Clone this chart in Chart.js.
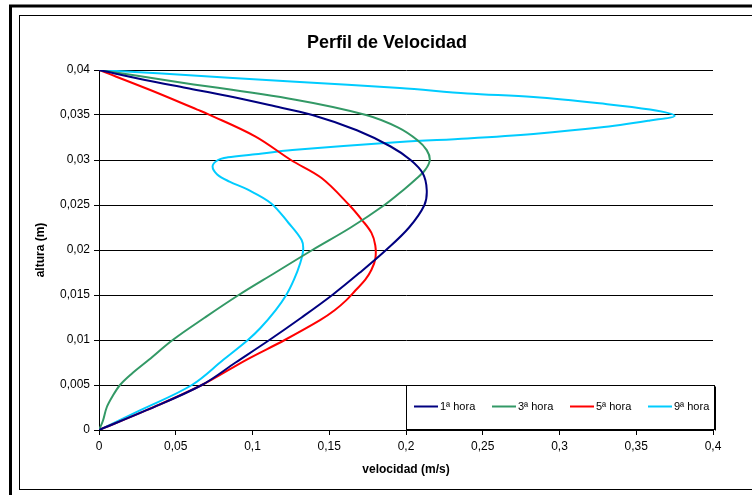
<!DOCTYPE html>
<html>
<head>
<meta charset="utf-8">
<script src="https://cdn.jsdelivr.net/npm/chart.js@4/dist/chart.umd.min.js"></script>
<style>
  html, body { margin: 0; padding: 0; background: #fff; }
  canvas { display: block; }
</style>
</head>
<body>
<canvas id="chart" width="752" height="495"></canvas>
<script>
const alt1 = [0, 0.0022, 0.005, 0.0075, 0.01, 0.0125, 0.015, 0.0175, 0.02, 0.0225, 0.025, 0.0267, 0.0285, 0.03, 0.0315, 0.0333, 0.035, 0.0361, 0.0371, 0.038, 0.0389, 0.04]
const vel1 = [0, 0.031, 0.067, 0.089, 0.111, 0.132, 0.152, 0.170, 0.187, 0.202, 0.212, 0.2135, 0.211, 0.203, 0.190, 0.168, 0.139, 0.111, 0.084, 0.057, 0.030, 0]

const alt3 = [0, 0.001, 0.0025, 0.0038, 0.005, 0.0062, 0.0078, 0.01, 0.0125, 0.015, 0.0175, 0.02, 0.0225, 0.025, 0.0267, 0.0278, 0.0289, 0.03, 0.0311, 0.0322, 0.0336, 0.035, 0.0367, 0.0387, 0.04]
const vel3 = [0, 0.0025, 0.005, 0.009, 0.0137, 0.021, 0.0325, 0.048, 0.069, 0.091, 0.115, 0.139, 0.164, 0.186, 0.1985, 0.206, 0.2125, 0.2155, 0.2135, 0.2075, 0.195, 0.174, 0.128, 0.05, 0]

const alt5 = [0, 0.0022, 0.005, 0.0078, 0.01, 0.0122, 0.0133, 0.0144, 0.0155, 0.0167, 0.0178, 0.019, 0.0205, 0.0219, 0.0233, 0.025, 0.028, 0.03, 0.0326, 0.0351, 0.0356, 0.0378, 0.04]
const vel5 = [0, 0.031, 0.067, 0.096, 0.121, 0.144, 0.1535, 0.161, 0.167, 0.1735, 0.1775, 0.180, 0.180, 0.1775, 0.1715, 0.163, 0.145, 0.125, 0.102, 0.071, 0.064, 0.033, 0]

const alt9 = [0, 0.0022, 0.005, 0.0078, 0.01, 0.0113, 0.0133, 0.015, 0.0167, 0.0185, 0.02, 0.0211, 0.023, 0.0252, 0.0267, 0.0276, 0.0284, 0.0293, 0.03, 0.0303, 0.0306, 0.0311, 0.032, 0.0324, 0.0329, 0.0336, 0.0344, 0.0349, 0.0356, 0.0363, 0.037, 0.0374, 0.038, 0.0387, 0.0396, 0.04]
const vel9 = [0, 0.027, 0.0605, 0.081, 0.097, 0.105, 0.115, 0.122, 0.127, 0.131, 0.133, 0.132, 0.1235, 0.112, 0.097, 0.085, 0.077, 0.074, 0.0775, 0.084, 0.10, 0.126, 0.196, 0.240, 0.283, 0.326, 0.359, 0.375, 0.359, 0.326, 0.283, 0.240, 0.196, 0.128, 0.041, 0]

const seriesNames = ['1ª hora', '3ª hora', '5ª hora', '9ª hora']
const seriesColors = ['#000080', '#339966', '#FF0000', '#00CCFF']

const xTicks = [0, 0.05, 0.1, 0.15, 0.2, 0.25, 0.3, 0.35, 0.4]
const xTickLabels = ['0', '0,05', '0,1', '0,15', '0,2', '0,25', '0,3', '0,35', '0,4']
const yTicks = [0, 0.005, 0.01, 0.015, 0.02, 0.025, 0.03, 0.035, 0.04]
const yTickLabels = ['0', '0,005', '0,01', '0,015', '0,02', '0,025', '0,03', '0,035', '0,04']

const FONT = "'Liberation Sans', Arial, sans-serif"

function toPoints(vel, alt) {
    return vel.map((v, i) => ({ x: v, y: alt[i] }))
}

const series = [
    toPoints(vel1, alt1),
    toPoints(vel3, alt3),
    toPoints(vel5, alt5),
    toPoints(vel9, alt9)
]

// marcos, titulo y leyenda al estilo Excel
const framePlugin = {
    id: 'frame',
    beforeDraw(chart) {
        const ctx = chart.ctx
        ctx.save()
        ctx.fillStyle = '#fff'
        ctx.fillRect(0, 0, chart.width, chart.height)
        ctx.strokeStyle = '#000'
        ctx.lineWidth = 3
        ctx.strokeRect(10.5, 6, 760, 500)
        ctx.lineWidth = 1
        ctx.strokeRect(19.5, 15.5, 750, 474)
        ctx.restore()
    },
    afterDraw(chart) {
        const ctx = chart.ctx
        ctx.save()
        ctx.fillStyle = '#000'
        ctx.font = 'bold 18px ' + FONT
        ctx.textAlign = 'center'
        ctx.textBaseline = 'middle'
        ctx.fillText('Perfil de Velocidad', 387, 43)

        // leyenda
        const box = { x: 406.5, y: 385.5, w: 308, h: 44 }
        ctx.fillStyle = '#fff'
        ctx.fillRect(box.x, box.y, box.w, box.h)
        ctx.strokeStyle = '#000'
        ctx.lineWidth = 1
        ctx.strokeRect(box.x, box.y, box.w, box.h)
        ctx.beginPath()
        ctx.moveTo(box.x + box.w + 1, box.y + 1)
        ctx.lineTo(box.x + box.w + 1, box.y + box.h + 1)
        ctx.stroke()

        ctx.font = '11px ' + FONT
        ctx.textAlign = 'left'
        chart.data.datasets.forEach((ds, i) => {
            const lx = 414 + i * 78
            const ly = 406.5
            ctx.strokeStyle = ds.borderColor
            ctx.lineWidth = 2
            ctx.beginPath()
            ctx.moveTo(lx, ly)
            ctx.lineTo(lx + 24, ly)
            ctx.stroke()
            ctx.fillStyle = '#000'
            ctx.fillText(ds.label, lx + 26, ly)
        })
        ctx.restore()
    }
}

const ctx = document.getElementById('chart').getContext('2d')
window.myChart = new Chart(ctx, {
    type: 'scatter',
    data: {
        datasets: series.map((pts, i) => ({
            label: seriesNames[i],
            data: pts,
            showLine: true,
            borderColor: seriesColors[i],
            backgroundColor: seriesColors[i],
            borderWidth: 2,
            pointRadius: 0,
            tension: 0.35,
            fill: false
        }))
    },
    options: {
        responsive: false,
        animation: false,
        devicePixelRatio: 1,
        layout: { padding: { top: 70, right: 39, left: 0, bottom: 0 } },
        plugins: {
            legend: { display: false },
            title: { display: false },
            tooltip: { enabled: false }
        },
        scales: {
            x: {
                type: 'linear',
                min: 0,
                max: 0.4,
                afterFit: scale => { scale.height = 65 },
                afterBuildTicks: scale => { scale.ticks = xTicks.map(v => ({ value: v })) },
                grid: { drawOnChartArea: false, drawTicks: true, tickLength: 5, color: '#000' },
                border: { display: true, color: '#000', width: 1 },
                ticks: {
                    autoSkip: false,
                    maxRotation: 0,
                    padding: 4,
                    color: '#000',
                    font: { family: FONT, size: 12 },
                    callback: (v, i) => xTickLabels[i]
                },
                title: {
                    display: true,
                    text: 'velocidad (m/s)',
                    color: '#000',
                    font: { family: FONT, size: 12, weight: 'bold' },
                    padding: { top: 0, bottom: 18 }
                }
            },
            y: {
                type: 'linear',
                min: 0,
                max: 0.04,
                afterFit: scale => { scale.width = 99 },
                afterBuildTicks: scale => { scale.ticks = yTicks.map(v => ({ value: v })) },
                grid: { drawOnChartArea: true, drawTicks: true, tickLength: 5, color: '#000' },
                border: { display: true, color: '#000', width: 1 },
                ticks: {
                    autoSkip: false,
                    padding: 4,
                    color: '#000',
                    font: { family: FONT, size: 12 },
                    callback: (v, i) => yTickLabels[i]
                },
                title: {
                    display: true,
                    text: 'altura (m)',
                    color: '#000',
                    font: { family: FONT, size: 12, weight: 'bold' },
                    padding: { top: 33, bottom: 0 }
                }
            }
        }
    },
    plugins: [framePlugin]
})
</script>
</body>
</html>
